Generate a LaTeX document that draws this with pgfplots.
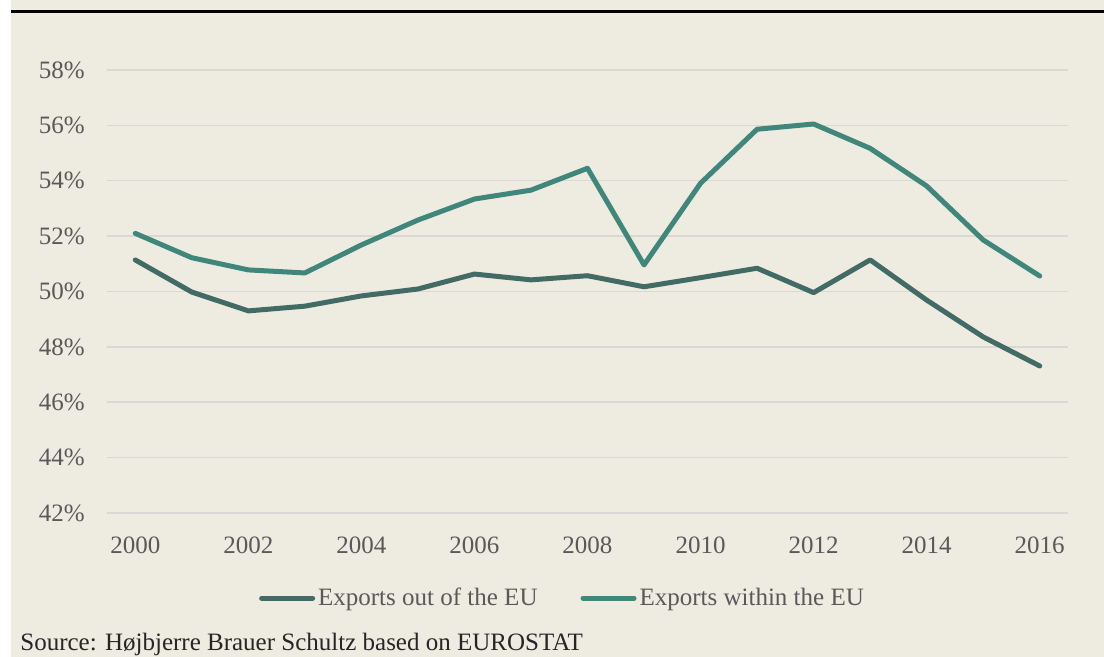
\documentclass[border=0pt]{standalone}
\usepackage{pgfplots}
\pgfplotsset{compat=1.18}
\usepackage{fontspec}
\setmainfont{Liberation Serif}

\definecolor{bg}{HTML}{EEEBE1}
\definecolor{gridc}{HTML}{DAD8D3}
\definecolor{txt}{HTML}{595959}
\definecolor{outeu}{HTML}{436B65}
\definecolor{ineu}{HTML}{3F877B}

\newcommand{\chartfont}{\fontsize{12.5}{15}\selectfont}

\begin{document}
\begin{tikzpicture}
\useasboundingbox (0,0) rectangle (552pt,-328.5pt);
\fill[bg] (5.5pt,0) rectangle (552pt,-328.5pt);
\draw[black, line width=1.5pt] (5.5pt,-5.75pt) -- (552pt,-5.75pt);

\begin{axis}[
	at={(53.5pt,-256.5pt)},
	anchor=south west,
	scale only axis,
	width=480.5pt,
	height=221.5pt,
	xmin=1999.5, xmax=2016.5,
	ymin=42, ymax=58,
	xtick={2000,2002,...,2016},
	ytick={42,44,...,58},
	yticklabel={\pgfmathprintnumber{\tick}\%},
	/pgf/number format/assume math mode=true,
	/pgf/number format/1000 sep={},
	axis line style={draw=none},
	major tick length=0pt,
	ymajorgrids,
	major grid style={gridc, line width=0.75pt},
	tick label style={font=\chartfont, text=txt, inner sep=0pt},
	yticklabel style={anchor=east, xshift=-11pt},
	xticklabel style={anchor=north, yshift=-11.5pt},
	every axis plot/.append style={line width=2.5pt, line cap=round, line join=round},
	legend columns=2,
	legend style={
		at={(0.4745,-0.192)}, anchor=center,
		draw=none, fill=none, inner sep=0pt,
		font=\chartfont, text=txt,
		nodes={inner sep=1.5pt},
		/tikz/every even column/.append style={column sep=20pt},
	},
	legend image code/.code={
		\draw[#1, line width=2.5pt, line cap=round] (0pt,0pt) -- (25.5pt,0pt);
	},
	clip=false,
]

% exports out of the EU
\addplot[outeu] coordinates {
	(2000,51.14) (2001,49.98) (2002,49.30) (2003,49.47) (2004,49.84)
	(2005,50.09) (2006,50.63) (2007,50.42) (2008,50.57) (2009,50.17)
	(2010,50.50) (2011,50.84) (2012,49.96) (2013,51.14) (2014,49.69)
	(2015,48.36) (2016,47.31)
};
\addlegendentry{Exports out of the EU}

% exports within the EU
\addplot[ineu] coordinates {
	(2000,52.10) (2001,51.22) (2002,50.78) (2003,50.67) (2004,51.68)
	(2005,52.58) (2006,53.34) (2007,53.66) (2008,54.45) (2009,50.96)
	(2010,53.91) (2011,55.86) (2012,56.05) (2013,55.17) (2014,53.81)
	(2015,51.86) (2016,50.56)
};
\addlegendentry{Exports within the EU}

\end{axis}

\node[anchor=base west, inner sep=0pt, font=\chartfont, text=black!85]
	at (10pt,-325.3pt) {Source: Højbjerre Brauer Schultz based on EUROSTAT};
\end{tikzpicture}
\end{document}
